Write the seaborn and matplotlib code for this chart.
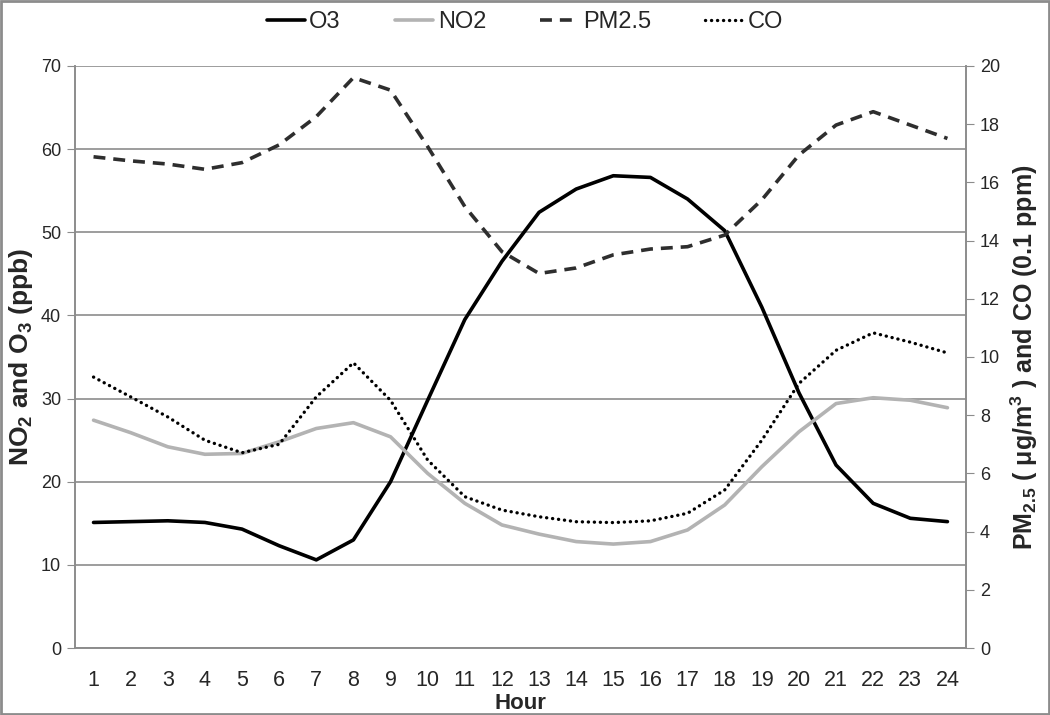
import numpy as np
import matplotlib
matplotlib.use('Agg')
import matplotlib.pyplot as plt
import seaborn as sns

# hourly means
hours = list(range(1, 25))
o3 = [15.1, 15.2, 15.3, 15.1, 14.3, 12.3, 10.6, 13.0, 20.0, 29.8, 39.5, 46.5,
      52.4, 55.2, 56.8, 56.6, 54.0, 50.2, 41.0, 30.7, 22.0, 17.4, 15.6, 15.2]
no2 = [27.4, 25.9, 24.2, 23.3, 23.4, 24.8, 26.4, 27.1, 25.4, 21.0, 17.4, 14.8,
       13.7, 12.8, 12.5, 12.8, 14.2, 17.2, 21.8, 26.0, 29.4, 30.1, 29.8, 28.9]
pm25 = [16.88, 16.74, 16.63, 16.45, 16.68, 17.29, 18.26, 19.6, 19.17, 17.23, 15.17, 13.62,
        12.87, 13.06, 13.51, 13.71, 13.79, 14.19, 15.4, 16.94, 17.97, 18.43, 17.97, 17.51]
co = [9.31, 8.63, 7.94, 7.14, 6.71, 7.0, 8.63, 9.8, 8.51, 6.46, 5.2, 4.74,
      4.51, 4.34, 4.31, 4.37, 4.63, 5.43, 7.14, 9.09, 10.23, 10.83, 10.51, 10.14]

sns.set_style('white')
plt.rcParams['font.family'] = ['Liberation Sans', 'DejaVu Sans']
plt.rcParams['mathtext.fontset'] = 'custom'
plt.rcParams['mathtext.rm'] = 'Liberation Sans'
plt.rcParams['mathtext.bf'] = 'Liberation Sans:bold'

grid_c = '#8c8c8c'

fig = plt.figure(figsize=(10.5, 7.15), dpi=100)
ax = fig.add_axes([0.0714, 0.0937, 0.8486, 0.814])
ax2 = ax.twinx()

sns.lineplot(x=hours, y=o3, ax=ax, color='black', lw=2.6, label='O3', legend=False)
sns.lineplot(x=hours, y=no2, ax=ax, color='#b3b3b3', lw=2.6, label='NO2', legend=False)
sns.lineplot(x=hours, y=pm25, ax=ax2, color='#2e2e2e', lw=2.6, label='PM2.5',
             legend=False, linestyle=(0, (3.3, 2.2)))
sns.lineplot(x=hours, y=co, ax=ax2, color='black', lw=2.4, label='CO',
             legend=False, linestyle=(0, (0.05, 1.75)), dash_capstyle='round')

ax.set_xlim(0.5, 24.5)
ax.set_ylim(0, 70)
ax2.set_ylim(0, 20)
ax.set_yticks(np.arange(0, 71, 10))
ax2.set_yticks(np.arange(0, 21, 2))
ax.set_xticks(hours)
ax.set_xticks(np.arange(0.5, 25, 1), minor=True)

ax.yaxis.grid(True, color=grid_c, lw=1.2)
ax.set_axisbelow(True)

for a in (ax, ax2):
    for s in a.spines.values():
        s.set_color(grid_c)
        s.set_linewidth(1.2)
    a.spines['top'].set_visible(False)

ax.tick_params(axis='x', which='major', length=0, labelsize=15.5, pad=16)
ax.tick_params(axis='x', which='minor', length=6, color=grid_c, direction='out')
ax.tick_params(axis='y', length=6, color=grid_c, labelsize=13, direction='out', pad=4)
ax2.tick_params(axis='y', length=6, color=grid_c, labelsize=13, direction='out', pad=4)

ax.set_xlabel('Hour', fontsize=16, fontweight='bold', labelpad=1)
ax.set_ylabel(r'NO$_\mathbf{2}$ and O$_\mathbf{3}$ (ppb)', fontsize=19, fontweight='bold', labelpad=4)
ax2.set_ylabel(r'PM$_\mathbf{2.5}$ ( μg/m$^\mathbf{3}$ ) and CO (0.1 ppm)', fontsize=18,
               fontweight='bold', labelpad=6)

h1, l1 = ax.get_legend_handles_labels()
h2, l2 = ax2.get_legend_handles_labels()
fig.legend(h1 + h2, l1 + l2, loc='center', bbox_to_anchor=(0.5, 0.969), ncol=4,
           frameon=False, fontsize=17, handlelength=1.6, handletextpad=0.2,
           columnspacing=2.3)

fig.add_artist(plt.Rectangle((0.001, 0.001), 0.998, 0.998, transform=fig.transFigure,
                             fill=False, ec='#8c8c8c', lw=2))

fig.savefig('out.png', dpi=100)
